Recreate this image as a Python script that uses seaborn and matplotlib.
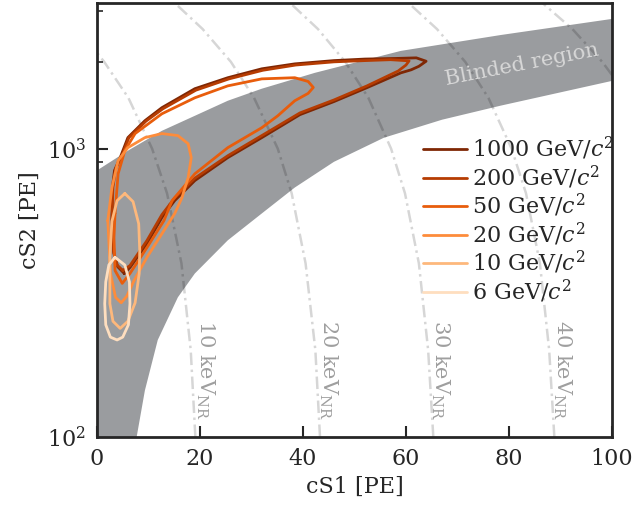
import numpy as np
import pandas as pd
import matplotlib
matplotlib.use('Agg')
import matplotlib.pyplot as plt
import seaborn as sns
from matplotlib.ticker import NullFormatter, LogLocator

# blinded band edges (cS1, cS2)
band_upper_s1 = [0.0, 6.0, 12.6, 19.0, 25.4, 32.0, 42.3, 59.0, 78.4, 100.0]
band_upper_s2 = [840, 984, 1153, 1300, 1466, 1614, 1832, 2183, 2478, 2818]
band_lower_s1 = [7.7, 9.3, 11.8, 15.7, 19.0, 25.4, 32.0, 38.4, 46.0, 55.7, 67.0, 78.4, 100.0]
band_lower_s2 = [100, 145, 217, 305, 369, 481, 596, 733, 900, 1091, 1260, 1410, 1718]

# constant energy lines (keV_NR)
kev_s2 = [100, 200, 400, 700, 1000, 1500, 2000, 2600, 3200]
kev10_s1 = [19.1, 18.2, 16.4, 13.6, 10.7, 6.1, 1.4, 0.0]
kev10_s2 = [100, 200, 400, 700, 1000, 1500, 2000, 2150]
kev20_s1 = [43.3, 42.4, 40.5, 37.8, 35.1, 30.5, 26.0, 20.5, 15.1]
kev30_s1 = [65.3, 64.3, 62.5, 59.8, 57.1, 52.7, 48.2, 42.9, 37.5]
kev40_s1 = [88.8, 87.8, 86.0, 83.3, 80.5, 76.0, 71.5, 66.0, 60.5]
kev50_s1 = [100.0, 98.1, 92.3, 86.5]
kev50_s2 = [1800, 2000, 2600, 3200]
kev_labels = ['10 keV$_{\\rm NR}$', '20 keV$_{\\rm NR}$', '30 keV$_{\\rm NR}$', '40 keV$_{\\rm NR}$']
kev_label_s1 = [21.0, 44.9, 66.6, 90.3]

# WIMP signal contours
mass_labels = ['1000 GeV/$c^2$', '200 GeV/$c^2$', '50 GeV/$c^2$',
               '20 GeV/$c^2$', '10 GeV/$c^2$', '6 GeV/$c^2$']
m1000_s1 = [5.3, 4.0, 3.3, 2.9, 3.0, 3.4, 4.5, 6.0, 9.3, 12.6, 19.0, 25.4, 32.0, 38.4, 46.0,
            52.0, 58.0, 62.0, 63.9, 62.5, 61.0, 59.0, 52.4, 46.0, 39.4, 32.0, 25.4, 19.0,
            15.1, 12.6, 9.7, 6.4]
m1000_s2 = [369, 390, 433, 563, 733, 840, 930, 1092, 1250, 1387, 1614, 1762, 1892, 1968, 2020,
            2045, 2055, 2065, 2010, 1930, 1877, 1832, 1627, 1456, 1312, 1092, 931, 775,
            661, 577, 469, 387]
m200_s1 = [5.0, 3.9, 3.2, 2.9, 3.1, 3.6, 4.8, 6.2, 9.5, 12.8, 19.2, 25.6, 32.2, 38.6, 46.0,
           52.0, 57.0, 60.6, 60.0, 58.5, 52.4, 46.0, 39.4, 32.0, 25.4, 19.0, 15.1, 12.6,
           9.7, 6.4]
m200_s2 = [378, 395, 440, 570, 733, 850, 940, 1092, 1245, 1375, 1595, 1745, 1870, 1950, 2000,
           2020, 2035, 2016, 1950, 1860, 1650, 1475, 1330, 1110, 945, 790, 675, 590,
           480, 393]
m50_s1 = [3.5, 4.1, 5.4, 7.4, 12.6, 19.0, 25.4, 32.0, 38.4, 41.0, 42.0, 41.0, 38.4, 35.1, 32.0,
          25.4, 19.0, 14.6, 13.0, 9.7, 6.4, 4.9, 3.5, 3.3]
m50_s2 = [596, 818, 984, 1128, 1321, 1501, 1651, 1746, 1762, 1710, 1630, 1555, 1466, 1300, 1182,
          1008, 818, 661, 563, 454, 369, 341, 378, 492]
m20_s1 = [2.1, 2.9, 4.1, 6.0, 9.3, 12.6, 15.7, 17.7, 18.3, 17.7, 16.5, 15.1, 13.0, 9.7,
          7.2, 5.8, 4.7, 3.6, 2.6, 2.3]
m20_s2 = [563, 733, 909, 1008, 1092, 1128, 1110, 1040, 931, 794, 676, 596, 520, 420,
          349, 308, 292, 305, 370, 480]
m10_s1 = [5.4, 7.0, 8.1, 8.3, 8.2, 7.4, 6.0, 4.5, 3.1, 2.5, 2.5, 2.9, 3.9]
m10_s2 = [699, 655, 549, 444, 369, 292, 252, 238, 252, 290, 420, 560, 660]
m6_s1 = [3.5, 5.4, 6.3, 6.4, 6.1, 5.0, 3.9, 2.6, 1.7, 1.5, 1.7, 2.3]
m6_s2 = [420, 395, 345, 290, 245, 222, 217, 222, 245, 290, 345, 395]

sns.set_style('ticks')
plt.rcParams['font.family'] = 'DejaVu Serif'
plt.rcParams['mathtext.fontset'] = 'dejavuserif'

contours = [(m1000_s1, m1000_s2), (m200_s1, m200_s2), (m50_s1, m50_s2),
            (m20_s1, m20_s2), (m10_s1, m10_s2), (m6_s1, m6_s2)]
frames = []
for label, (xs, ys) in zip(mass_labels, contours):
    frames.append(pd.DataFrame({'cs1': list(xs) + [xs[0]], 'cs2': list(ys) + [ys[0]], 'mass': label}))
df = pd.concat(frames, ignore_index=True)

cmap = sns.color_palette('Oranges', as_cmap=True)
colors = [cmap(v) for v in np.linspace(1.0, 0.17, 6)]

fig = plt.figure(figsize=(6.36, 5.08), dpi=100)
ax = fig.add_axes([0.1525, 0.1398, 0.8098, 0.8543])
ax.set_yscale('log')

band_x = band_upper_s1 + band_lower_s1[::-1] + [0.0]
band_y = band_upper_s2 + band_lower_s2[::-1] + [100]
ax.fill(band_x, band_y, color='#9a9c9f', lw=0, zorder=1)

line_style = dict(color='k', alpha=0.16, lw=1.8, ls=(0, (5, 1.8, 1, 1.8)), zorder=2)
ax.plot(kev10_s1, kev10_s2, **line_style)
ax.plot(kev20_s1, kev_s2, **line_style)
ax.plot(kev30_s1, kev_s2, **line_style)
ax.plot(kev40_s1, kev_s2, **line_style)
ax.plot(kev50_s1, kev50_s2, **line_style)
for s1, txt in zip(kev_label_s1, kev_labels):
    ax.text(s1, 254, txt, rotation=270, ha='center', va='top', fontsize=15,
            color='k', alpha=0.38, zorder=2)

ax.text(82.4, 1954, 'Blinded region', rotation=11, ha='center', va='center',
        fontsize=15, color='#d8d8d8', zorder=2)

sns.lineplot(data=df, x='cs1', y='cs2', hue='mass', hue_order=mass_labels, palette=colors,
             sort=False, estimator=None, lw=2, ax=ax, zorder=4)

handles, labels = ax.get_legend_handles_labels()
ax.legend(handles, labels, frameon=False, loc='upper right', bbox_to_anchor=(1.02, 0.716),
          fontsize=16, handlelength=2.0, labelspacing=0.06, handletextpad=0.2, borderaxespad=0)

ax.set_xlim(0, 100)
ax.set_ylim(100, 3200)
ax.set_xticks([0, 20, 40, 60, 80, 100])
ax.yaxis.set_minor_locator(LogLocator(base=10, subs=np.arange(2, 10)))
ax.yaxis.set_minor_formatter(NullFormatter())
ax.tick_params(which='both', direction='in', top=False, right=False, labelsize=16, pad=8)
ax.tick_params(which='major', length=8, width=1.5)
ax.tick_params(which='minor', length=4.5, width=1.2)
for sp in ax.spines.values():
    sp.set_linewidth(2)
ax.set_xlabel('cS1 [PE]', fontsize=16)
ax.set_ylabel('cS2 [PE]', fontsize=16)

fig.savefig('out.png', dpi=100)
plt.close(fig)
